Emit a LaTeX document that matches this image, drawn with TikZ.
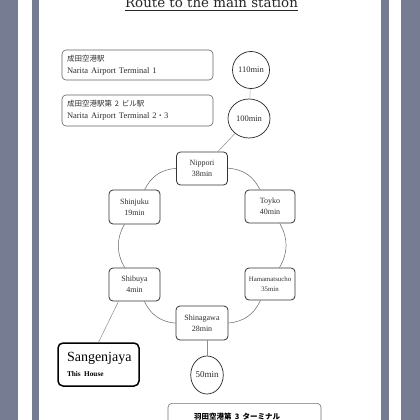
\documentclass[tikz,border=0pt]{standalone}
\usepackage{fontspec}
\setmainfont{Liberation Serif}
\newfontfamily\titlefont{DejaVu Serif}
\newfontfamily\jp{Noto Sans CJK JP}
\usetikzlibrary{shapes.geometric}
\definecolor{framegray}{HTML}{767C91}
\definecolor{boxline}{HTML}{5E665E}
\definecolor{conn}{HTML}{8C8C8C}
\definecolor{txt}{HTML}{2E2E2E}
\tikzset{
  infobox/.style={draw=boxline, line width=0.6pt, rounded corners=4pt, fill=white,
    minimum width=151pt, minimum height=30pt, text width=141pt, inner xsep=5pt,
    align=left, text=txt, font=\fontsize{8.5}{12}\selectfont},
  station/.style={draw=black!80, line width=0.8pt, rounded corners=4pt, fill=white,
    minimum width=51pt, minimum height=33pt, align=center, text=txt,
    font=\fontsize{8}{11}\selectfont},
  timeball/.style={draw=black!85, line width=0.7pt, ellipse, fill=white, inner sep=0pt,
    text=txt, font=\fontsize{8.5}{10}\selectfont},
  conline/.style={draw=conn, line width=0.5pt},
  ringline/.style={draw=black!60, line width=0.5pt},
}
\begin{document}
\begin{tikzpicture}[x=1pt,y=-1pt]
\useasboundingbox (0,0) rectangle (420,420);
\clip (0,0) rectangle (420,420);
\fill[white] (0,0) rectangle (420,420);
\fill[framegray] (0,0) rectangle (18,420);
\fill[framegray] (31.5,0) rectangle (39,420);
\fill[framegray] (381,0) rectangle (388.5,420);
\fill[framegray] (401,0) rectangle (420,420);

% title
\node[anchor=base, inner sep=0pt, text=black!85] (title) at (211.5,7.5)
  {\titlefont\fontsize{13.4}{14}\selectfont Route to the main station};
\draw[line width=0.7pt, black!85] ([yshift=-2.5pt]title.base west) -- ([yshift=-2.5pt]title.base east);

% info boxes
\node[infobox] (box1) at (137.5,65) {{\jp\fontsize{7.5}{12}\selectfont 成田空港駅}\\Narita Airport Terminal 1};
\node[infobox, minimum height=31pt] (box2) at (137.5,110.5) {{\jp\fontsize{7.5}{12}\selectfont 成田空港駅第 2 ビル駅}\\Narita Airport Terminal 2{\jp\fontsize{7.5}{12}\selectfont ・}3};

% time balls
\node[timeball, minimum width=37pt, minimum height=37pt] (c110) at (251,70) {110min};
\node[timeball, minimum width=42pt, minimum height=39pt] (c100) at (249,118.5) {100min};
\node[timeball, minimum width=31pt, minimum height=38pt, font=\fontsize{9}{10}\selectfont] (c50) at (207,375) {50min};

% stations
\node[station] (nippori) at (202,168.5) {Nippori\\38min};
\node[station, minimum width=50pt] (toyko) at (270,206.5) {Toyko\\40min};
\node[station, minimum height=34pt] (shinjuku) at (134.5,207) {Shinjuku\\19min};
\node[station] (shibuya) at (134.5,284.5) {Shibuya\\4min};
\node[station, minimum width=50pt, minimum height=32pt, font=\fontsize{6.8}{10}\selectfont] (hama) at (270,284) {Hamamatsucho\\35min};
\node[station, minimum width=52pt, minimum height=34pt] (shinagawa) at (202,323) {Shinagawa\\28min};

% home
\node[draw=black, line width=1.5pt, rounded corners=5pt, fill=white,
  minimum width=81pt, minimum height=43pt, text width=63pt, inner xsep=9pt,
  align=left, text=black] (sangenjaya) at (98.5,364.5)
  {\fontsize{14}{16}\selectfont Sangenjaya\\[3pt]\fontsize{7.3}{9}\selectfont\bfseries This House};

% haneda box
\node[draw=black!55, line width=0.6pt, rounded corners=4pt, fill=white,
  minimum width=153pt, minimum height=40pt, anchor=north, align=left, text=black,
  text width=101pt, inner xsep=26pt, inner ysep=1.5pt] (haneda) at (244.5,403)
  {{\jp\bfseries\fontsize{7.5}{11.5}\selectfont 羽田空港第 3 ターミナル}\\{\fontsize{8}{11.5}\selectfont\bfseries Haneda Airport Terminal 3}};

% connectors
\draw[conline, draw=conn!70] (c110) -- (c100);
\draw[conline] (c100) -- (nippori);
\draw[ringline] (nippori) to[bend left=30] (toyko);
\draw[ringline] (toyko) to[bend left=30] (hama);
\draw[ringline] (hama) to[bend left=30] (shinagawa);
\draw[ringline] (shinagawa) to[bend left=30] (shibuya);
\draw[ringline] (shibuya) to[bend left=30] (shinjuku);
\draw[ringline] (shinjuku) to[bend left=30] (nippori);
\draw[conline] (c50.north |- shinagawa.south) -- (c50.north);
\draw[conline] ([xshift=-16pt]shibuya.south) -- (sangenjaya.north);
\end{tikzpicture}
\end{document}
